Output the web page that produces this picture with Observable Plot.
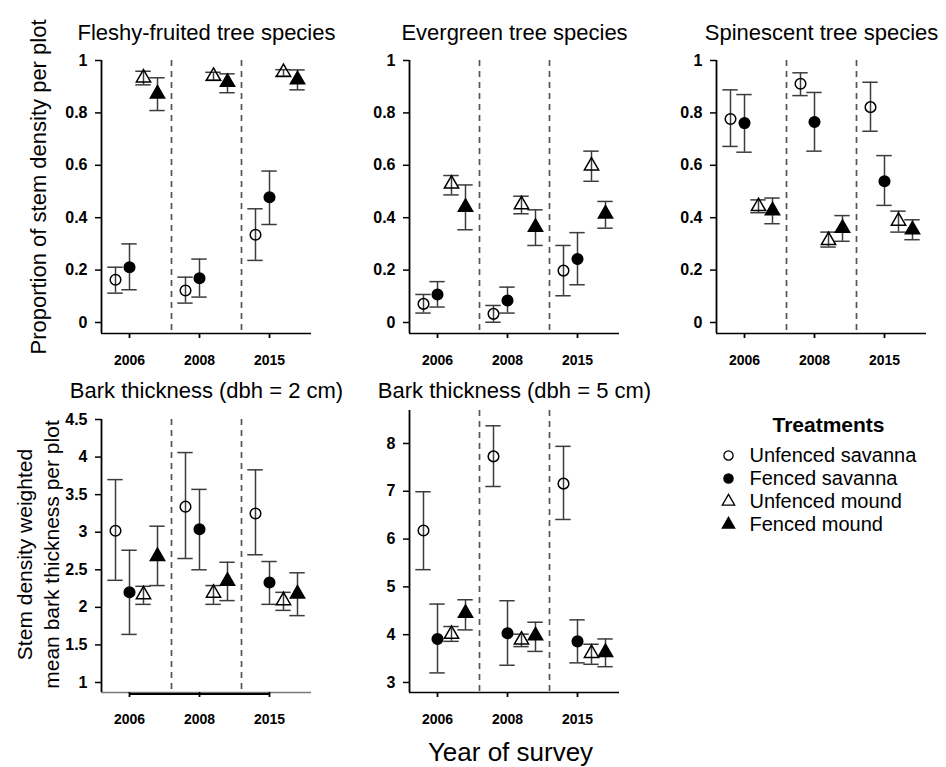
<!DOCTYPE html>
<html><head><meta charset="utf-8">
<script src="https://cdn.jsdelivr.net/npm/d3@7"></script>
<script src="https://cdn.jsdelivr.net/npm/@observablehq/plot@0.6"></script>
<style>
body{margin:0;background:#fff;}
#chart{position:relative;width:946px;height:767px;overflow:hidden;background:#fff;}
#chart > svg{position:absolute;max-width:none;}
</style></head><body><div id="chart"></div>
<script>
// ---------- data ----------
const years = ["2006", "2008", "2015"];
const treatments = ["Unfenced savanna", "Fenced savanna", "Unfenced mound", "Fenced mound"];
const legendTitle = "Treatments";
const xAxisTitle = "Year of survey";
const yLabelTop = "Proportion of stem density per plot";
const yLabelBottom = "Stem density weighted\nmean bark thickness per plot";

// order: 2006 (4 treatments), 2008 (4), 2015 (4)
const fleshyMean = [0.163, 0.211, 0.934, 0.873, 0.122, 0.169, 0.940, 0.917, 0.335, 0.478, 0.955, 0.927];
const fleshyLow  = [0.112, 0.125, 0.907, 0.809, 0.074, 0.097, 0.924, 0.877, 0.237, 0.374, 0.940, 0.888];
const fleshyHigh = [0.211, 0.300, 0.959, 0.934, 0.173, 0.242, 0.955, 0.949, 0.434, 0.578, 0.965, 0.964];

const evergreenMean = [0.071, 0.107, 0.529, 0.440, 0.033, 0.084, 0.450, 0.364, 0.198, 0.242, 0.598, 0.415];
const evergreenLow  = [0.036, 0.059, 0.487, 0.354, 0.001, 0.036, 0.415, 0.294, 0.102, 0.144, 0.539, 0.360];
const evergreenHigh = [0.107, 0.156, 0.561, 0.525, 0.065, 0.135, 0.482, 0.430, 0.294, 0.343, 0.654, 0.462];

const spinescentMean = [0.777, 0.761, 0.443, 0.427, 0.911, 0.765, 0.313, 0.360, 0.822, 0.539, 0.387, 0.354];
const spinescentLow  = [0.672, 0.650, 0.419, 0.377, 0.866, 0.654, 0.288, 0.310, 0.730, 0.447, 0.345, 0.316];
const spinescentHigh = [0.888, 0.870, 0.468, 0.475, 0.953, 0.878, 0.345, 0.408, 0.917, 0.637, 0.425, 0.392];

const bark2Mean = [3.02, 2.20, 2.17, 2.68, 3.34, 3.04, 2.19, 2.35, 3.25, 2.33, 2.09, 2.18];
const bark2Low  = [2.36, 1.64, 2.04, 2.29, 2.65, 2.50, 2.04, 2.09, 2.70, 2.04, 1.96, 1.89];
const bark2High = [3.70, 2.76, 2.28, 3.08, 4.06, 3.57, 2.29, 2.60, 3.83, 2.61, 2.20, 2.46];

const bark5Mean = [6.18, 3.91, 4.01, 4.45, 7.73, 4.03, 3.89, 3.98, 7.16, 3.86, 3.61, 3.63];
const bark5Low  = [5.36, 3.20, 3.86, 4.10, 7.10, 3.36, 3.75, 3.65, 6.41, 3.41, 3.38, 3.33];
const bark5High = [6.99, 4.64, 4.17, 4.73, 8.37, 4.71, 4.01, 4.26, 7.94, 4.31, 3.80, 3.91];

const propTicks = [0, 0.2, 0.4, 0.6, 0.8, 1];
const bark2Ticks = [1, 1.5, 2, 2.5, 3, 3.5, 4, 4.5];
const bark5Ticks = [3, 4, 5, 6, 7, 8];

// ---------- layout helpers ----------
const FONT = "'Liberation Sans', Arial, Helvetica, sans-serif";
const slots = treatments.length + 1;            // x units per year group
const xMax = years.length * slots;
const separators = years.slice(1).map((_, i) => (i + 1) * slots);
const yearTickPos = years.map((_, i) => i * slots + 2);
const yearLabelAt = new Map(yearTickPos.map((p, i) => [p, years[i]]));
const capHalf = 0.55;
const symbolScale = {domain: treatments, range: ["circle", "circle", "triangle", "triangle"]};
const colorScale = {domain: treatments, range: ["none", "black", "none", "black"]};

function panel(o) {
  const rows = o.mean.map((m, i) => ({
    treatment: treatments[i % treatments.length],
    year: years[Math.floor(i / treatments.length)],
    pos: Math.floor(i / treatments.length) * slots + (i % treatments.length) + 1,
    mean: m, low: o.low[i], high: o.high[i]
  }));
  const marks = [
    Plot.ruleX(separators, {stroke: "#555", strokeWidth: 1.7, strokeDasharray: "6,5"}),
    Plot.ruleX(rows, {x: "pos", y1: "low", y2: "high", stroke: "#3c3c3c", strokeWidth: 1.5}),
    Plot.ruleY(rows, {y: "low", x1: d => d.pos - capHalf, x2: d => d.pos + capHalf, stroke: "#3c3c3c", strokeWidth: 1.5}),
    Plot.ruleY(rows, {y: "high", x1: d => d.pos - capHalf, x2: d => d.pos + capHalf, stroke: "#3c3c3c", strokeWidth: 1.5}),
    Plot.dot(rows, {x: "pos", y: "mean", symbol: "treatment", fill: "treatment", stroke: "black", strokeWidth: 1.5, r: 5.3}),
    Plot.ruleX([0], {stroke: "black", strokeWidth: 1.8}),
    Plot.ruleY([o.yDomain[0]], {stroke: o.thickAxis ? "#777" : "black", strokeWidth: o.thickAxis ? 1.3 : 1.6}),
    Plot.axisY({ticks: o.yTicks, tickFormat: d => String(d), tickSize: 6, tickPadding: 8, fontSize: 16, fontWeight: "bold", strokeWidth: 1.5, label: null}),
    Plot.axisX({ticks: yearTickPos, tickFormat: d => yearLabelAt.get(d), tickSize: 5, tickPadding: 17, fontSize: 14, fontWeight: "bold", strokeWidth: 1.8, label: null}),
    Plot.text([o.title], {frameAnchor: "top", lineAnchor: "middle", dy: o.titleDy, fontSize: 22, text: d => d})
  ];
  if (o.thickAxis) {
    const span = [{a: yearTickPos[0], b: yearTickPos[yearTickPos.length - 1], y: o.yDomain[0]}];
    marks.push(Plot.link(span, {x1: "a", x2: "b", y1: "y", y2: "y", dy: 1.5, stroke: "black", strokeWidth: 2.2}));
  }
  if (o.yLabel) marks.push(Plot.text([o.yLabel], {frameAnchor: "left", textAnchor: "middle", lineAnchor: "middle", dx: o.yLabelDx, dy: o.yLabelDy, rotate: -90, fontSize: o.yLabelSize, lineHeight: 1.28, text: d => d}));
  if (o.xLabel) marks.push(Plot.text([o.xLabel], {frameAnchor: "bottom", lineAnchor: "middle", dx: -4, dy: 60, fontSize: 26, text: d => d}));
  const svg = Plot.plot({
    width: o.box[2], height: o.box[3],
    marginLeft: o.margin[0], marginRight: o.margin[1], marginTop: o.margin[2], marginBottom: o.margin[3],
    x: {domain: [0, xMax]},
    y: {domain: o.yDomain},
    symbol: symbolScale,
    color: colorScale,
    style: {fontFamily: FONT, background: "transparent", overflow: "visible", color: "black"},
    marks
  });
  svg.style.left = o.box[0] + "px";
  svg.style.top = o.box[1] + "px";
  return svg;
}

const chart = document.getElementById("chart");

chart.appendChild(panel({title: "Fleshy-fruited tree species", mean: fleshyMean, low: fleshyLow, high: fleshyHigh,
  yDomain: [-0.042, 1], yTicks: propTicks, box: [0, 0, 330, 380], margin: [101, 19, 60, 47], titleDy: -28,
  yLabel: yLabelTop, yLabelDx: -65, yLabelDy: -10, yLabelSize: 22}));
chart.appendChild(panel({title: "Evergreen tree species", mean: evergreenMean, low: evergreenLow, high: evergreenHigh,
  yDomain: [-0.042, 1], yTicks: propTicks, box: [330, 0, 310, 380], margin: [79, 21, 60, 47], titleDy: -28}));
chart.appendChild(panel({title: "Spinescent tree species", mean: spinescentMean, low: spinescentLow, high: spinescentHigh,
  yDomain: [-0.042, 1], yTicks: propTicks, box: [640, 0, 306, 380], margin: [76, 20, 60, 47], titleDy: -28}));
chart.appendChild(panel({title: "Bark thickness (dbh = 2 cm)", mean: bark2Mean, low: bark2Low, high: bark2High,
  yDomain: [0.867, 4.5], yTicks: bark2Ticks, box: [0, 380, 330, 387], margin: [101, 19, 39, 75], titleDy: -29,
  yLabel: yLabelBottom, yLabelDx: -64.5, yLabelDy: -1.5, yLabelSize: 21, thickAxis: true}));
chart.appendChild(panel({title: "Bark thickness (dbh = 5 cm)", mean: bark5Mean, low: bark5Low, high: bark5High,
  yDomain: [2.79, 8.69], yTicks: bark5Ticks, box: [330, 380, 310, 387], margin: [79, 21, 30, 75], titleDy: -20,
  xLabel: xAxisTitle}));

// legend
const legend = Plot.plot({
  width: 246, height: 140, marginTop: 54, marginBottom: 16, marginLeft: 28, marginRight: 18,
  y: {type: "point", domain: treatments, padding: 0, axis: null},
  symbol: symbolScale,
  color: colorScale,
  style: {fontFamily: FONT, background: "transparent", overflow: "visible", color: "black"},
  marks: [
    Plot.dot(treatments, {y: d => d, frameAnchor: "left", symbol: d => d, fill: d => d, stroke: "black", strokeWidth: 1.3, r: 4.6}),
    Plot.text(treatments, {y: d => d, frameAnchor: "left", dx: 21, textAnchor: "start", fontSize: 20, text: d => d}),
    Plot.text([legendTitle], {frameAnchor: "top", lineAnchor: "middle", dy: -29, fontSize: 21, fontWeight: "bold", text: d => d})
  ]
});
legend.style.left = "700px";
legend.style.top = "400px";
chart.appendChild(legend);
</script></body></html>
